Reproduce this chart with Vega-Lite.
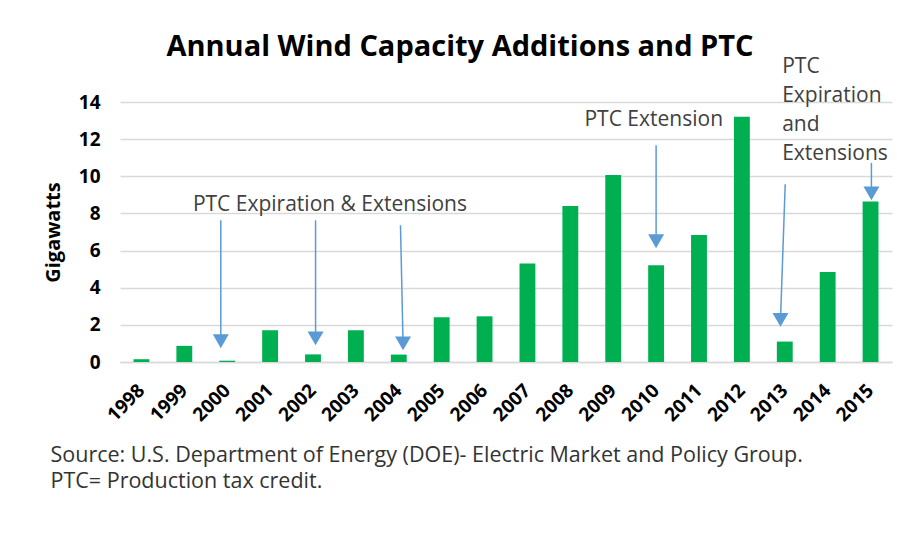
{
  "$schema": "https://vega.github.io/schema/vega-lite/v6.json",
  "width": 772,
  "height": 260,
  "autosize": "none",
  "padding": {"left": 120, "top": 102, "right": 5, "bottom": 180},
  "background": "white",
  "title": {
    "text": "Annual Wind Capacity Additions and PTC",
    "font": "Open Sans",
    "fontSize": 29,
    "fontWeight": "bold",
    "color": "#000000",
    "anchor": "middle",
    "frame": "group",
    "dx": -46,
    "dy": 29,
    "baseline": "alphabetic",
    "offset": 0
  },
  "config": {
    "view": {"stroke": null},
    "font": "Open Sans",
    "axisY": {
      "labelOverlap": false,
      "labelFont": "Open Sans",
      "labelFontSize": 19,
      "labelFontWeight": "bold",
      "labelColor": "#000000",
      "labelPadding": 20,
      "ticks": false,
      "domain": false,
      "gridColor": "#d9d9d9",
      "gridWidth": 1.5,
      "titleFont": "Open Sans",
      "titleFontSize": 20,
      "titleFontWeight": "bold",
      "titleColor": "#000000"
    }
  },
  "datasets": {
    "bars": [
      {"year": "1998", "value": 0.15},
      {"year": "1999", "value": 0.87},
      {"year": "2000", "value": 0.07},
      {"year": "2001", "value": 1.71},
      {"year": "2002", "value": 0.41},
      {"year": "2003", "value": 1.71},
      {"year": "2004", "value": 0.40},
      {"year": "2005", "value": 2.41},
      {"year": "2006", "value": 2.46},
      {"year": "2007", "value": 5.30},
      {"year": "2008", "value": 8.40},
      {"year": "2009", "value": 10.07},
      {"year": "2010", "value": 5.21},
      {"year": "2011", "value": 6.84},
      {"year": "2012", "value": 13.21},
      {"year": "2013", "value": 1.10},
      {"year": "2014", "value": 4.85},
      {"year": "2015", "value": 8.64}
    ],
    "arrows": [
      {"xq": 1999.85, "xq2": 1999.85, "ytop": 7.63, "ybot": 1.12},
      {"xq": 2002.06, "xq2": 2002.06, "ytop": 7.63, "ybot": 1.27},
      {"xq": 2004.04, "xq2": 2004.10, "ytop": 7.36, "ybot": 1.0},
      {"xq": 2010.0, "xq2": 2010.0, "ytop": 11.67, "ybot": 6.5},
      {"xq": 2013.01, "xq2": 2012.90, "ytop": 9.57, "ybot": 2.27},
      {"xq": 2015.02, "xq2": 2015.02, "ytop": 10.72, "ybot": 9.08}
    ],
    "notes": [
      {"xq": 1999.2, "ytop": 8.44, "label": "PTC Expiration & Extensions"},
      {"xq": 2008.33, "ytop": 13.02, "label": "PTC Extension"},
      {"xq": 2012.94, "ytop": 15.89, "label": "PTC\nExpiration\nand\nExtensions"}
    ]
  },
  "layer": [
    {
      "data": {"name": "bars"},
      "mark": {"type": "bar", "color": "#00B050"},
      "encoding": {
        "x": {
          "field": "year",
          "type": "ordinal",
          "scale": {"paddingInner": 0.63, "paddingOuter": 0.315},
          "axis": {
            "title": ["Source: U.S. Department of Energy (DOE)- Electric Market and Policy Group.", "PTC= Production tax credit."],
            "titleFont": "Open Sans",
            "titleFontSize": 21.5,
            "titleFontWeight": "normal",
            "titleColor": "#333333",
            "titleAlign": "left",
            "titleAnchor": "start",
            "titleBaseline": "alphabetic",
            "titleX": -70,
            "titleY": 99,
            "titleLineHeight": 26,
            "labelAngle": -45,
            "labelAlign": "right",
            "labelBaseline": "middle",
            "labelFont": "Open Sans",
            "labelFontSize": 19,
            "labelFontWeight": "bold",
            "labelColor": "#000000",
            "labelPadding": 25,
            "labelOverlap": false,
            "ticks": false,
            "domain": true,
            "domainColor": "#d9d9d9",
            "domainWidth": 1.5
          }
        },
        "y": {
          "field": "value",
          "type": "quantitative",
          "title": "Gigawatts",
          "scale": {"domain": [0, 14], "nice": false},
          "axis": {"values": [0, 2, 4, 6, 8, 10, 12, 14], "titleX": -57, "titleY": 130}
        }
      }
    },
    {
      "data": {"name": "arrows"},
      "mark": {"type": "rule", "color": "#5B9BD5", "strokeWidth": 1.5},
      "encoding": {
        "x": {"field": "xq", "type": "quantitative", "scale": {"domain": [1997.5, 2015.5], "nice": false, "zero": false}, "axis": null},
        "x2": {"field": "xq2"},
        "y": {"field": "ytop", "type": "quantitative", "title": "Gigawatts", "axis": {"values": [0, 2, 4, 6, 8, 10, 12, 14], "titleX": -57, "titleY": 130}},
        "y2": {"field": "ybot"}
      }
    },
    {
      "data": {"name": "arrows"},
      "mark": {"type": "point", "shape": "triangle-down", "filled": true, "size": 256, "color": "#5B9BD5", "opacity": 1},
      "encoding": {
        "x": {"field": "xq2", "type": "quantitative", "scale": {"domain": [1997.5, 2015.5], "nice": false, "zero": false}, "axis": null},
        "y": {"field": "ybot", "type": "quantitative", "title": "Gigawatts", "axis": {"values": [0, 2, 4, 6, 8, 10, 12, 14], "titleX": -57, "titleY": 130}}
      }
    },
    {
      "data": {"name": "notes"},
      "mark": {"type": "text", "align": "left", "baseline": "middle", "font": "Open Sans", "fontSize": 21, "color": "#404040", "lineBreak": "\n", "lineHeight": 29},
      "encoding": {
        "x": {"field": "xq", "type": "quantitative", "scale": {"domain": [1997.5, 2015.5], "nice": false, "zero": false}, "axis": null},
        "y": {"field": "ytop", "type": "quantitative", "title": "Gigawatts", "axis": {"values": [0, 2, 4, 6, 8, 10, 12, 14], "titleX": -57, "titleY": 130}},
        "text": {"field": "label"}
      }
    }
  ],
  "resolve": {"scale": {"x": "independent"}}
}
